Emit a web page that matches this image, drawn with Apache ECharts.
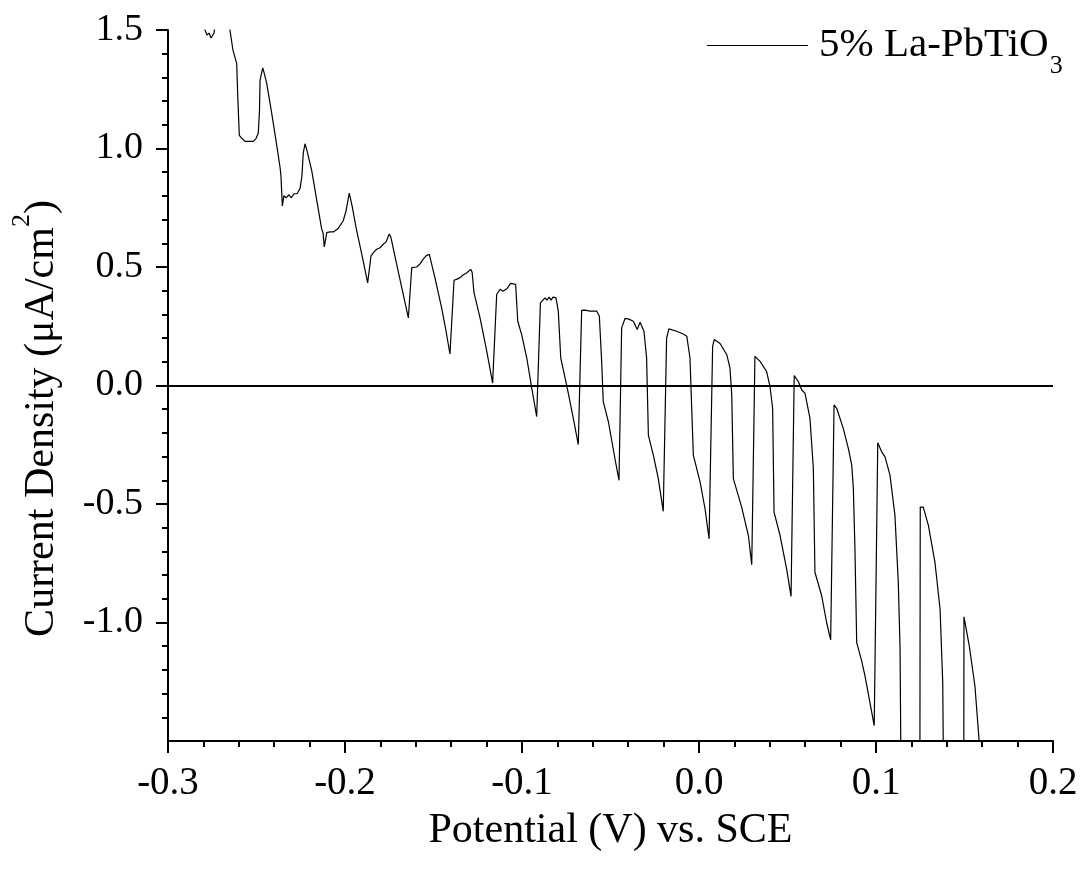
<!DOCTYPE html>
<html>
<head>
<meta charset="utf-8">
<script src="https://cdn.jsdelivr.net/npm/echarts@6/dist/echarts.min.js"></script>
<style>
  html, body { margin: 0; padding: 0; background: #fff; }
  #chart { width: 1086px; height: 876px; }
</style>
</head>
<body>
<div id="chart"></div>
<script>
// Chopped-light linear sweep: potential (V vs. SCE) and current density (µA/cm²)
const potential = [
  -0.2795, -0.2791, -0.2780, -0.2768, -0.2757, -0.2751, -0.2740, -0.2734, -0.2715, -0.2670,
  -0.2650, -0.2633, -0.2612, -0.2605, -0.2597, -0.2582, -0.2565, -0.2554, -0.2542, -0.2518,
  -0.2503, -0.2490, -0.2483, -0.2480, -0.2465, -0.2458, -0.2442, -0.2414, -0.2390, -0.2367,
  -0.2362, -0.2354, -0.2345, -0.2333, -0.2316, -0.2305, -0.2288, -0.2271, -0.2254, -0.2243,
  -0.2236, -0.2226, -0.2215, -0.2188, -0.2164, -0.2132, -0.2124, -0.2117, -0.2103, -0.2085,
  -0.2066, -0.2040, -0.2010, -0.1994, -0.1976, -0.1960, -0.1934, -0.1897, -0.1872, -0.1853,
  -0.1836, -0.1821, -0.1802, -0.1784, -0.1768, -0.1750, -0.1740, -0.1708, -0.1671, -0.1642,
  -0.1623, -0.1595, -0.1576, -0.1558, -0.1542, -0.1524, -0.1514, -0.1492, -0.1454, -0.1429,
  -0.1407, -0.1384, -0.1367, -0.1350, -0.1333, -0.1312, -0.1290, -0.1282, -0.1271, -0.1237,
  -0.1199, -0.1166, -0.1143, -0.1124, -0.1107, -0.1086, -0.1064, -0.1036, -0.1024, -0.1002,
  -0.0973, -0.0945, -0.0917, -0.0896, -0.0870, -0.0859, -0.0847, -0.0836, -0.0825, -0.0808,
  -0.0795, -0.0781, -0.0748, -0.0710, -0.0682, -0.0663, -0.0644, -0.0616, -0.0578, -0.0563,
  -0.0550, -0.0541, -0.0512, -0.0475, -0.0452, -0.0437, -0.0418, -0.0396, -0.0371, -0.0349,
  -0.0333, -0.0311, -0.0296, -0.0286, -0.0258, -0.0230, -0.0202, -0.0183, -0.0170, -0.0126,
  -0.0089, -0.0069, -0.0051, -0.0032, 0.0006, 0.0034, 0.0057, 0.0077, 0.0086, 0.0119,
  0.0157, 0.0175, 0.0185, 0.0194, 0.0241, 0.0279, 0.0298, 0.0316, 0.0345, 0.0382,
  0.0401, 0.0416, 0.0424, 0.0458, 0.0495, 0.0520, 0.0538, 0.0561, 0.0580, 0.0599,
  0.0627, 0.0646, 0.0655, 0.0693, 0.0721, 0.0744, 0.0763, 0.0778, 0.0815, 0.0844,
  0.0863, 0.0872, 0.0881, 0.0891, 0.0919, 0.0938, 0.0966, 0.0990, 0.1010, 0.1032,
  0.1051, 0.1079, 0.1107, 0.1126, 0.1136, 0.1140, 0.1142, 0.1248, 0.1250, 0.1267,
  0.1296, 0.1333, 0.1362, 0.1377, 0.1380, 0.1381, 0.1496, 0.1497, 0.1527, 0.1559,
  0.1584, 0.1587
];
const currentDensity = [
  1.60, 1.500, 1.479, 1.487, 1.466, 1.462, 1.487, 1.52, 1.60, 1.60,
  1.500, 1.415, 1.359, 1.203, 1.055, 1.042, 1.030, 1.038, 1.030, 1.030,
  1.042, 1.064, 1.161, 1.288, 1.340, 1.322, 1.274, 1.148, 1.034, 0.921,
  0.886, 0.758, 0.801, 0.792, 0.805, 0.792, 0.809, 0.809, 0.831, 0.886,
  0.979, 1.020, 0.992, 0.907, 0.801, 0.661, 0.644, 0.585, 0.645, 0.648,
  0.648, 0.661, 0.695, 0.737, 0.812, 0.758, 0.653, 0.525, 0.433, 0.547,
  0.564, 0.575, 0.581, 0.596, 0.606, 0.639, 0.623, 0.511, 0.384, 0.285,
  0.497, 0.500, 0.513, 0.533, 0.547, 0.554, 0.551, 0.455, 0.328, 0.229,
  0.133, 0.444, 0.449, 0.455, 0.466, 0.476, 0.490, 0.479, 0.391, 0.285,
  0.144, 0.010, 0.384, 0.406, 0.398, 0.408, 0.431, 0.427, 0.271, 0.215,
  0.116, -0.011, -0.131, 0.349, 0.370, 0.360, 0.373, 0.360, 0.373, 0.370,
  0.314, 0.116, 0.003, -0.139, -0.249, 0.317, 0.318, 0.314, 0.314, 0.292,
  0.102, -0.068, -0.153, -0.308, -0.400, 0.243, 0.283, 0.280, 0.271, 0.236,
  0.267, 0.229, 0.116, -0.209, -0.294, -0.393, -0.531, 0.200, 0.239, 0.229,
  0.217, 0.208, 0.116, -0.294, -0.407, -0.520, -0.647, 0.165, 0.194, 0.177,
  0.130, 0.073, -0.039, -0.393, -0.513, -0.633, -0.756, 0.123, 0.102, 0.059,
  -0.004, -0.096, -0.534, -0.633, -0.774, -0.890, 0.042, 0.017, -0.018, -0.033,
  -0.139, -0.350, -0.788, -0.887, -1.000, -1.073, -0.082, -0.096, -0.181, -0.266,
  -0.336, -0.435, -0.689, -1.085, -1.162, -1.226, -1.339, -1.435, -0.242, -0.280,
  -0.301, -0.378, -0.548, -0.831, -1.113, -1.513, -1.60, -1.60, -0.513, -0.513,
  -0.590, -0.746, -0.944, -1.254, -1.513, -1.60, -1.60, -0.976, -1.099, -1.268,
  -1.513, -1.60
];
const seriesName = '5% La-PbTiO3';
const xRange = [-0.3, 0.2];
const yRange = [-1.5, 1.5];
const yMajorTicks = [-1.0, -0.5, 0.0, 0.5, 1.0, 1.5];

const serif = '"Liberation Serif", "Times New Roman", "DejaVu Serif", serif';
const points = potential.map((v, i) => [v, currentDensity[i]]);

const chart = echarts.init(document.getElementById('chart'), null, { renderer: 'canvas' });
chart.setOption({
  backgroundColor: '#ffffff',
  animation: false,
  grid: { left: 168, right: 33, top: 30, bottom: 135, containLabel: false },
  legend: {
    left: 707,
    top: 25,
    padding: 0,
    itemWidth: 101,
    itemHeight: 1.2,
    data: [{ name: seriesName, icon: 'rect' }],
    itemStyle: { color: '#000', borderWidth: 0 },
    formatter: () => '{a|5% La-PbTiO}{s|3}',
    textStyle: {
      color: '#000',
      rich: {
        a: { fontFamily: serif, fontSize: 41, color: '#000', padding: [0, 0, 0, 6] },
        s: { fontFamily: serif, fontSize: 26, color: '#000', padding: [42, 0, 0, 1] }
      }
    }
  },
  xAxis: {
    type: 'value',
    min: xRange[0],
    max: xRange[1],
    interval: 0.1,
    name: 'Potential (V) vs. SCE',
    nameLocation: 'middle',
    nameGap: 69,
    nameTextStyle: { fontFamily: serif, fontSize: 42, color: '#000' },
    axisLine: { show: true, onZero: false, lineStyle: { color: '#000', width: 2 } },
    axisTick: { show: true, inside: false, length: 12, lineStyle: { color: '#000', width: 2 } },
    minorTick: { show: true, splitNumber: 5, length: 6, lineStyle: { color: '#000', width: 2 } },
    axisLabel: {
      margin: 23,
      fontFamily: serif,
      fontSize: 39,
      color: '#000',
      formatter: v => v.toFixed(1)
    },
    splitLine: { show: false }
  },
  yAxis: {
    type: 'value',
    min: yRange[0],
    max: yRange[1],
    interval: 0.5,
    name: '{a|Current Density (μA/cm}{s|2}{a|)}',
    nameLocation: 'middle',
    nameRotate: 90,
    nameGap: 93,
    nameTextStyle: {
      color: '#000',
      padding: [0, 66, 0, 0],
      rich: {
        a: { fontFamily: serif, fontSize: 42, color: '#000' },
        s: { fontFamily: serif, fontSize: 26, color: '#000', padding: [0, 0, 40, 0] }
      }
    },
    axisLine: { show: true, onZero: false, lineStyle: { color: '#000', width: 2 } },
    axisTick: {
      show: true,
      inside: false,
      length: 12,
      customValues: yMajorTicks,
      lineStyle: { color: '#000', width: 2 }
    },
    minorTick: { show: true, splitNumber: 5, length: 6, lineStyle: { color: '#000', width: 2 } },
    axisLabel: {
      margin: 25,
      fontFamily: serif,
      fontSize: 38,
      color: '#000',
      customValues: yMajorTicks,
      formatter: v => v.toFixed(1)
    },
    splitLine: { show: false }
  },
  series: [
    {
      name: seriesName,
      type: 'line',
      data: points,
      symbol: 'none',
      showSymbol: false,
      clip: true,
      lineStyle: { color: '#000', width: 1.2 },
      itemStyle: { color: '#000' },
      markLine: {
        silent: true,
        symbol: 'none',
        label: { show: false },
        lineStyle: { color: '#000', width: 1.8, type: 'solid' },
        data: [{ yAxis: 0 }]
      }
    }
  ]
});
</script>
</body>
</html>
